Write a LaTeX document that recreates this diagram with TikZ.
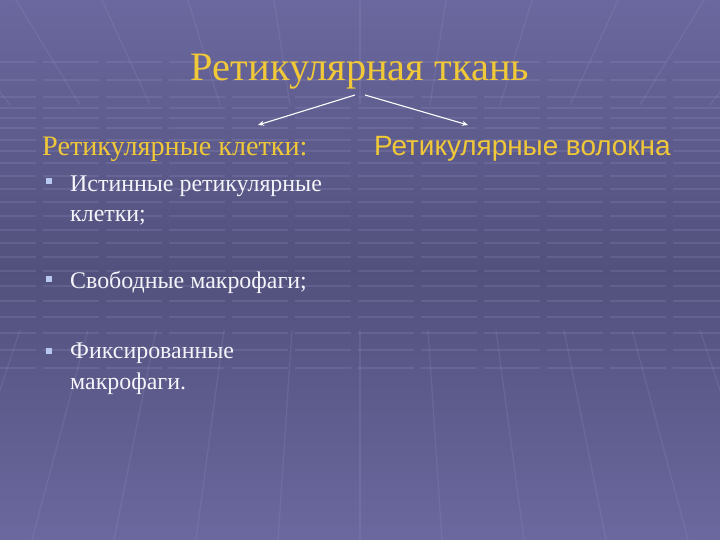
\documentclass[tikz,border=0pt]{standalone}
\usepackage{fontspec}
\setmainfont{Liberation Serif}
\newfontfamily\arialfont{Liberation Sans}
\usetikzlibrary{arrows.meta}
\definecolor{bgtop}{RGB}{106,104,158}
\definecolor{bgmid}{RGB}{82,80,124}
\definecolor{bgbot}{RGB}{106,104,158}
\definecolor{gold}{RGB}{240,200,56}
\definecolor{whitetext}{RGB}{244,244,250}
\definecolor{bulletblue}{RGB}{184,200,240}
\definecolor{gridline}{RGB}{150,148,200}
\tikzset{
  gridh/.style={draw=gridline, line width=1.3bp, opacity=0.22, dash pattern=on 56bp off 7bp},
  gridv/.style={draw=gridline, line width=1.3bp, opacity=0.2},
  heading/.style={text=gold, inner sep=0pt, anchor=base west, font=\fontsize{28.3}{32}\selectfont},
  title/.style={text=gold, inner sep=0pt, anchor=base, font=\fontsize{40.5}{46}\selectfont},
  item/.style={text=whitetext, inner sep=0pt, anchor=base west, font=\fontsize{24}{30}\selectfont},
  bulletsq/.style={fill=bulletblue, minimum size=6bp, inner sep=0pt},
  link/.style={draw=white, line width=1.1bp, -{Stealth[length=6bp,width=5bp]}}
}
\begin{document}
\begin{tikzpicture}[x=1bp,y=-1bp]
\useasboundingbox (0,0) rectangle (720,540);
\shade[top color=bgtop, bottom color=bgbot, middle color=bgmid] (0,0) rectangle (720,540);
% horizontal grid lines
\foreach \yy in {62,80,97,108,118,128,140,151,163,176,189,202,216,230,243,257,271,286,301,317,333,350,368}{
  \path[gridh] (-20,\yy) -- (740,\yy);
}
% ceiling perspective lines
\foreach \i in {-6,...,6}{
  \path[gridv] ({360+\i*86},0) -- ({360+\i*70},105);
}
% floor perspective lines
\foreach \i in {-6,...,6}{
  \path[gridv] ({360+\i*68},330) -- ({360+\i*82},540);
}
% texts
\node[title] (t) at (360,81) {Ретикулярная ткань};
\coordinate (tl) at (355,95);
\coordinate (tr) at (365,95);
\node[heading] (cells) at (42,156) {Ретикулярные клетки:};
\node[heading, font=\arialfont\fontsize{28}{32}\selectfont] (fibers) at (374,156) {Ретикулярные волокна};
\coordinate (cl) at (258,125);
\coordinate (fr) at (468,125);
\draw[link] (tl) -- (cl);
\draw[link] (tr) -- (fr);
\node[bulletsq] (b1) at (48.5,181.5) {};
\node[item] (i1a) at (70,192) {Истинные ретикулярные};
\node[item] (i1b) at (70,222) {клетки;};
\node[bulletsq] (b2) at (48.5,278.5) {};
\node[item] (i2) at (70,288) {Свободные макрофаги;};
\node[bulletsq] (b3) at (48.5,350.5) {};
\node[item] (i3a) at (70,358) {Фиксированные};
\node[item] (i3b) at (70,389) {макрофаги.};
\end{tikzpicture}
\end{document}
